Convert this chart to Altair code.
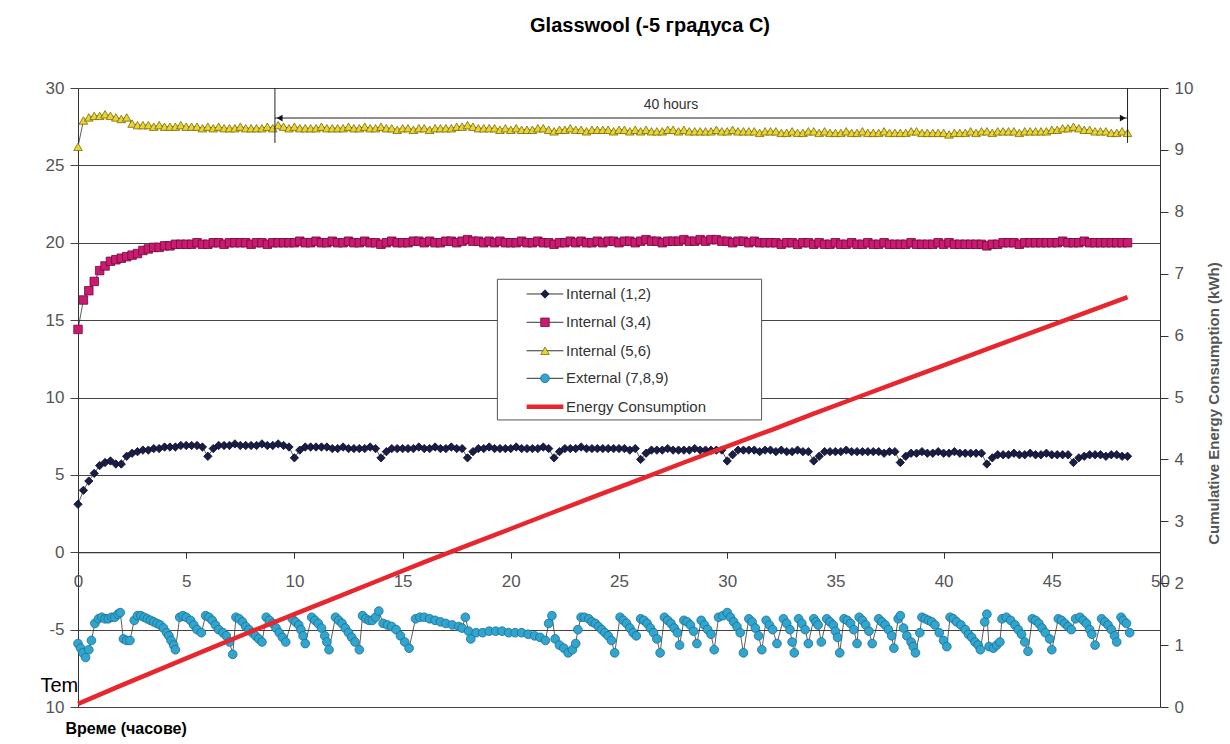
import altair as alt
import pandas as pd

TITLE = "Glasswool (-5 градуса C)"
SERIES = ["Internal (1,2)", "Internal (3,4)", "Internal (5,6)", "External (7,8,9)", "Energy Consumption"]
FILL = ["#1a1d45", "#cc1a72", "#e8d434", "#2fa5cf", "#e8262d"]
OUTLINE = ["#0b0d2a", "#6d0a3a", "#7a6a08", "#1d6e8e", "#e8262d"]
SHAPES = ["diamond", "square", "triangle-up", "circle", "circle"]
SIZES = [70, 78, 80, 80, 0]

# internal sensors, one reading every 15 minutes (4 per line = 1 hour)
int12 = [
    3.1, 4.0, 4.6, 5.1, 5.6, 5.8, 5.9, 5.7, 5.7, 6.2, 6.4, 6.5, 6.6, 6.6, 6.7, 6.7,
    6.8, 6.8, 6.8, 6.9, 6.9, 6.9, 6.9, 6.8, 6.2, 6.7, 6.9, 6.9, 6.9, 7.0, 6.9, 6.9,
    6.9, 6.9, 7.0, 6.9, 6.9, 7.0, 6.9, 6.8, 6.1, 6.6, 6.8, 6.8, 6.8, 6.8, 6.8, 6.7,
    6.7, 6.8, 6.7, 6.7, 6.7, 6.7, 6.8, 6.7, 6.1, 6.5, 6.7, 6.7, 6.7, 6.7, 6.7, 6.8,
    6.7, 6.7, 6.8, 6.7, 6.7, 6.8, 6.7, 6.7, 6.1, 6.5, 6.7, 6.7, 6.8, 6.7, 6.7, 6.7,
    6.7, 6.8, 6.7, 6.7, 6.7, 6.7, 6.8, 6.7, 6.1, 6.5, 6.7, 6.7, 6.7, 6.8, 6.7, 6.7,
    6.7, 6.7, 6.7, 6.7, 6.7, 6.7, 6.6, 6.7, 6.0, 6.4, 6.6, 6.6, 6.6, 6.7, 6.6, 6.6,
    6.6, 6.6, 6.7, 6.6, 6.6, 6.6, 6.6, 6.6, 5.9, 6.3, 6.6, 6.6, 6.6, 6.6, 6.5, 6.6,
    6.6, 6.5, 6.6, 6.5, 6.5, 6.6, 6.5, 6.5, 5.9, 6.2, 6.5, 6.5, 6.5, 6.5, 6.6, 6.5,
    6.5, 6.5, 6.5, 6.5, 6.5, 6.4, 6.5, 6.5, 5.8, 6.2, 6.4, 6.4, 6.5, 6.4, 6.4, 6.5,
    6.4, 6.4, 6.5, 6.4, 6.4, 6.4, 6.4, 6.4, 5.7, 6.1, 6.3, 6.3, 6.3, 6.4, 6.3, 6.3,
    6.4, 6.3, 6.3, 6.4, 6.3, 6.3, 6.3, 6.3, 5.8, 6.1, 6.2, 6.3, 6.3, 6.3, 6.2, 6.3,
    6.3, 6.2, 6.2,
]
int34 = [
    14.4, 16.3, 16.9, 17.5, 18.2, 18.5, 18.8, 18.9, 19.0, 19.1, 19.2, 19.3, 19.5, 19.6, 19.7, 19.7,
    19.8, 19.8, 19.9, 19.9, 19.9, 19.9, 20.0, 19.9, 19.9, 20.0, 20.0, 19.9, 20.0, 20.0, 20.0, 20.0,
    19.9, 20.0, 20.0, 19.9, 20.0, 20.0, 20.0, 20.0, 20.0, 20.1, 20.0, 20.0, 20.1, 20.0, 20.0, 20.1,
    20.0, 20.0, 20.1, 20.0, 20.0, 20.1, 20.0, 20.0, 19.9, 20.0, 20.1, 20.0, 20.0, 20.0, 20.1, 20.1,
    20.0, 20.1, 20.0, 20.0, 20.1, 20.1, 20.0, 20.1, 20.2, 20.1, 20.1, 20.0, 20.1, 20.0, 20.1, 20.0,
    20.0, 20.0, 20.1, 20.0, 20.0, 20.1, 20.0, 20.0, 19.9, 20.0, 20.0, 20.1, 20.0, 20.1, 20.0, 20.0,
    20.1, 20.0, 20.1, 20.1, 20.0, 20.1, 20.1, 20.0, 20.1, 20.2, 20.1, 20.1, 20.0, 20.1, 20.1, 20.1,
    20.2, 20.1, 20.1, 20.2, 20.1, 20.2, 20.2, 20.1, 20.1, 20.0, 20.1, 20.1, 20.0, 20.1, 20.0, 20.0,
    20.0, 20.0, 19.9, 20.0, 20.0, 19.9, 20.0, 20.0, 19.9, 20.0, 19.9, 19.9, 20.0, 19.9, 19.9, 20.0,
    19.9, 19.9, 20.0, 19.9, 19.9, 20.0, 19.9, 19.9, 19.9, 19.9, 20.0, 19.9, 19.9, 19.9, 19.9, 20.0,
    19.9, 20.0, 19.9, 19.9, 19.9, 19.9, 19.9, 19.9, 19.8, 19.9, 19.9, 20.0, 20.0, 20.0, 19.9, 20.0,
    20.0, 20.0, 20.0, 20.0, 20.0, 20.0, 20.1, 20.0, 20.0, 20.0, 20.1, 20.0, 20.0, 20.0, 20.0, 20.0,
    20.0, 20.0, 20.0,
]
int56 = [
    26.2, 27.9, 28.1, 28.2, 28.2, 28.3, 28.2, 28.1, 28.0, 28.1, 27.7, 27.6, 27.6, 27.6, 27.5, 27.6,
    27.5, 27.5, 27.5, 27.6, 27.5, 27.5, 27.5, 27.4, 27.5, 27.4, 27.5, 27.4, 27.4, 27.4, 27.5, 27.4,
    27.4, 27.4, 27.4, 27.5, 27.4, 27.6, 27.5, 27.4, 27.5, 27.4, 27.4, 27.4, 27.4, 27.5, 27.4, 27.4,
    27.4, 27.4, 27.5, 27.4, 27.4, 27.5, 27.4, 27.4, 27.5, 27.4, 27.4, 27.3, 27.4, 27.4, 27.3, 27.4,
    27.4, 27.3, 27.4, 27.4, 27.4, 27.4, 27.5, 27.5, 27.6, 27.5, 27.4, 27.4, 27.4, 27.4, 27.3, 27.4,
    27.3, 27.4, 27.3, 27.3, 27.3, 27.4, 27.4, 27.3, 27.2, 27.3, 27.3, 27.4, 27.3, 27.3, 27.2, 27.3,
    27.3, 27.3, 27.3, 27.2, 27.3, 27.3, 27.2, 27.3, 27.2, 27.3, 27.2, 27.2, 27.2, 27.3, 27.3, 27.2,
    27.3, 27.2, 27.2, 27.2, 27.2, 27.2, 27.3, 27.2, 27.2, 27.3, 27.2, 27.2, 27.2, 27.2, 27.1, 27.2,
    27.2, 27.2, 27.1, 27.1, 27.2, 27.1, 27.1, 27.2, 27.2, 27.1, 27.2, 27.1, 27.1, 27.1, 27.2, 27.1,
    27.1, 27.2, 27.1, 27.1, 27.1, 27.2, 27.1, 27.1, 27.1, 27.1, 27.2, 27.2, 27.1, 27.1, 27.1, 27.1,
    27.1, 27.0, 27.1, 27.1, 27.1, 27.2, 27.1, 27.2, 27.2, 27.1, 27.2, 27.2, 27.2, 27.2, 27.1, 27.2,
    27.2, 27.2, 27.2, 27.2, 27.3, 27.3, 27.4, 27.4, 27.5, 27.4, 27.3, 27.3, 27.2, 27.2, 27.2, 27.1,
    27.1, 27.2, 27.1,
]
STEP_H = 0.25

# external sensors (time in hours, temperature in C)
ext_t = [
    0.0, 0.12, 0.23, 0.35, 0.5, 0.62, 0.78, 0.95, 1.1, 1.25, 1.4, 1.55, 1.7, 1.85, 1.95,
    2.1, 2.25, 2.4, 2.6, 2.75, 2.9, 3.05, 3.2, 3.35, 3.5, 3.65, 3.8, 3.95, 4.1, 4.2, 4.3, 4.42, 4.5,
    4.7, 4.85, 5.0, 5.2, 5.35, 5.5, 5.7, 5.9, 6.05, 6.2, 6.35, 6.5, 6.7, 6.85, 7.0, 7.15,
    7.3, 7.45, 7.6, 7.75, 7.9, 8.05, 8.2, 8.35, 8.5, 8.7, 8.85, 9.0, 9.15, 9.3, 9.45, 9.6,
    9.9, 10.05, 10.2, 10.3, 10.4, 10.5, 10.8, 10.95, 11.1, 11.25, 11.4, 11.5, 11.6,
    11.9, 12.05, 12.2, 12.35, 12.5, 12.65, 12.8, 13.0, 13.15, 13.3, 13.45, 13.6, 13.75, 13.9,
    14.1, 14.3, 14.5, 14.7, 14.9, 15.1, 15.3, 15.6, 15.8, 16.0, 16.25, 16.5, 16.75, 17.0, 17.3, 17.6, 17.75, 17.9, 18.05, 18.15,
    18.4, 18.7, 19.0, 19.3, 19.6, 19.9, 20.2, 20.5, 20.8, 21.1, 21.35, 21.6, 21.75, 21.9,
    22.05, 22.25, 22.45, 22.65, 22.85, 23.0, 23.1, 23.25, 23.4, 23.6, 23.75, 23.9, 24.05, 24.2, 24.35, 24.5, 24.65, 24.8,
    25.05, 25.2, 25.35, 25.5, 25.65, 25.8, 26.0, 26.15, 26.3, 26.45, 26.6, 26.75, 26.9,
    27.1, 27.25, 27.4, 27.55, 27.7, 27.8, 28.0, 28.15, 28.3, 28.45, 28.6, 28.8, 28.95, 29.1, 29.25, 29.4,
    29.6, 29.8, 30.0, 30.15, 30.3, 30.45, 30.6, 30.75, 31.0, 31.15, 31.3, 31.45, 31.6,
    31.8, 31.95, 32.1, 32.3, 32.6, 32.75, 32.9, 33.0, 33.1, 33.3, 33.45, 33.6, 33.75,
    34.0, 34.1, 34.2, 34.35, 34.6, 34.75, 34.9, 35.0, 35.1, 35.2, 35.4, 35.55, 35.7, 35.85, 36.0,
    36.1, 36.25, 36.4, 36.55, 36.7, 37.0, 37.15, 37.3, 37.45, 37.6, 37.7,
    37.9, 38.0, 38.15, 38.3, 38.5, 38.6, 38.7, 38.9, 39.0, 39.15, 39.3, 39.45, 39.6, 39.8, 40.0, 40.15,
    40.3, 40.45, 40.6, 40.8, 41.0, 41.15, 41.3, 41.45, 41.6, 41.7, 41.9, 42.0, 42.1, 42.3, 42.45, 42.6,
    42.7, 42.9, 43.1, 43.3, 43.45, 43.6, 43.75, 43.9, 44.1, 44.25, 44.4, 44.55, 44.7, 44.9, 45.0,
    45.3, 45.45, 45.6, 45.75, 45.9, 46.1, 46.3, 46.45, 46.6, 46.75, 46.85, 47.0,
    47.3, 47.45, 47.6, 47.75, 47.9, 48.0, 48.2, 48.3, 48.45, 48.6,
]
ext_v = [
    -5.9, -6.2, -6.5, -6.8, -6.3, -5.7, -4.6, -4.3, -4.2, -4.3, -4.3, -4.2, -4.2, -4.0, -3.9,
    -5.6, -5.7, -5.7, -4.4, -4.1, -4.1, -4.2, -4.3, -4.4, -4.5, -4.6, -4.7, -4.9, -5.2, -5.4, -5.7, -6.0, -6.3,
    -4.2, -4.1, -4.2, -4.4, -4.7, -5.0, -5.2, -4.1, -4.2, -4.4, -4.7, -5.0, -5.2, -5.4, -5.8, -6.6,
    -4.2, -4.3, -4.5, -4.8, -5.0, -5.2, -5.4, -5.6, -5.8, -4.2, -4.4, -4.6, -4.9, -5.2, -5.5, -5.8,
    -4.3, -4.5, -4.7, -5.0, -5.4, -5.9, -4.2, -4.4, -4.6, -4.9, -5.4, -5.8, -6.3,
    -4.2, -4.4, -4.6, -4.9, -5.2, -5.5, -5.8, -6.3, -4.1, -4.3, -4.4, -4.4, -4.2, -3.8,
    -4.6, -4.7, -4.8, -5.0, -5.4, -5.8, -6.2, -4.3, -4.2, -4.2, -4.3, -4.4, -4.5, -4.6, -4.7, -4.8, -4.9, -4.2, -5.1, -5.6,
    -5.2, -5.2, -5.1, -5.1, -5.1, -5.2, -5.2, -5.2, -5.3, -5.4, -5.5, -5.7, -4.6, -4.1,
    -5.6, -6.0, -6.2, -6.5, -6.3, -5.9, -5.0, -4.2, -4.2, -4.3, -4.5, -4.6, -4.8, -5.0, -5.2, -5.4, -5.7, -6.5,
    -4.2, -4.4, -4.6, -4.9, -5.2, -5.4, -4.3, -4.4, -4.6, -4.9, -5.2, -5.6, -6.5,
    -4.2, -4.4, -4.6, -4.9, -5.2, -6.0, -4.4, -4.5, -4.7, -5.1, -5.9, -4.4, -4.7, -5.0, -5.3, -6.3,
    -4.2, -4.1, -3.9, -4.2, -4.5, -4.8, -5.2, -6.5, -4.3, -4.5, -4.9, -5.4, -6.3,
    -4.4, -4.7, -5.0, -5.9, -4.3, -4.6, -5.0, -5.8, -6.5, -4.3, -4.6, -5.0, -5.9,
    -4.3, -4.5, -4.7, -5.8, -4.3, -4.5, -4.7, -5.1, -5.5, -6.5, -4.3, -4.4, -4.6, -5.0, -5.9,
    -4.2, -4.4, -4.7, -5.1, -5.9, -4.3, -4.5, -4.7, -5.0, -5.4, -6.2,
    -4.3, -4.1, -4.9, -5.4, -5.8, -6.1, -6.5, -5.2, -4.2, -4.3, -4.4, -4.5, -4.7, -5.2, -5.7, -6.1,
    -4.2, -4.3, -4.5, -4.7, -5.0, -5.3, -5.5, -5.8, -6.0, -6.3, -4.5, -4.0, -6.1, -6.2, -6.0, -5.8,
    -4.3, -4.2, -4.4, -4.7, -5.0, -5.3, -5.8, -6.4, -4.3, -4.4, -4.6, -4.9, -5.2, -5.6, -6.3,
    -4.3, -4.4, -4.6, -4.8, -5.0, -4.3, -4.2, -4.4, -4.6, -5.0, -5.3, -6.0,
    -4.3, -4.5, -4.7, -5.0, -5.4, -5.8, -4.2, -4.4, -4.6, -5.2,
]

# cumulative energy (kWh)
energy_t = [0, 2, 4, 6, 8, 10, 12, 14, 16, 18, 20, 22, 24, 26, 28, 30, 32, 34, 36, 38, 40, 42, 44, 46, 48.5]
energy_v = [0.05, 0.35, 0.64, 0.93, 1.22, 1.50, 1.78, 2.06, 2.34, 2.61, 2.88, 3.15, 3.42, 3.68, 3.95,
            4.21, 4.47, 4.74, 5.00, 5.26, 5.52, 5.78, 6.04, 6.30, 6.62]

x_ticks = [0, 5, 10, 15, 20, 25, 30, 35, 40, 45, 50]
y_ticks = [-10, -5, 0, 5, 10, 15, 20, 25, 30]
y2_ticks = [0, 1, 2, 3, 4, 5, 6, 7, 8, 9, 10]

# "40 hours" span annotation (data units)
span_start, span_end = 9.1, 48.5
span_top, span_bottom, span_arrow, span_text_y = 30, 26.45, 28.06, 28.9
span_label = "40 hours"

# legend box placement (data units of the temperature panel)
leg_box = {"t": 19.38, "t2": 31.59, "v": 17.64, "v2": 8.55}
leg_rows_v = [16.69, 14.86, 13.02, 11.24, 9.41]
leg_line_t = (20.73, 22.43)
leg_mark_t = 21.58
leg_label_t = 22.55

# ---------- data frames ----------
rows = []
for name, vals in zip(SERIES[:3], [int12, int34, int56]):
    for i, v in enumerate(vals):
        rows.append({"t": i * STEP_H, "v": v, "series": name})
for t, v in zip(ext_t, ext_v):
    rows.append({"t": t, "v": v, "series": SERIES[3]})
df_temp = pd.DataFrame(rows)
df_energy = pd.DataFrame({"t": energy_t, "e": energy_v, "series": SERIES[4]})
df_leg = pd.DataFrame({"series": SERIES, "v": leg_rows_v,
                       "t": [leg_line_t[0]] * 5, "t2": [leg_line_t[1]] * 5,
                       "tm": [leg_mark_t] * 5, "tl": [leg_label_t] * 5})

FONT = "Liberation Sans"
xscale = alt.Scale(domain=[0, 50], nice=False, zero=False)
yscale = alt.Scale(domain=[-10, 30], nice=False, zero=False)

fill_scale = alt.Scale(domain=SERIES, range=FILL)
stroke_scale = alt.Scale(domain=SERIES, range=OUTLINE)
shape_scale = alt.Scale(domain=SERIES, range=SHAPES)
size_scale = alt.Scale(domain=SERIES, range=SIZES)

X_AXIS = alt.Axis(
    values=x_ticks, offset=-154.75, title="Време (часове)", titleX=-13, titleY=176,
    titleAlign="left", titleBaseline="middle", titleFontSize=16, titleFontWeight="bold",
    titleColor="black", titleFont=FONT, labelFont=FONT, labelFontSize=17, labelColor="#555",
    labelPadding=15, tickSize=6, tickColor="#333", domainColor="#333", grid=False, labelFlush=False,
)
Y_AXIS = alt.Axis(
    values=y_ticks, title="Tem", titleAngle=0, titleX=-38, titleY=597, titleAlign="left",
    titleBaseline="middle", titleFontSize=20, titleFontWeight="normal", titleColor="black",
    titleFont=FONT, labelFont=FONT, labelFontSize=17, labelColor="#555", labelPadding=6,
    tickSize=8, tickColor="#444", domainColor="#333", grid=True, gridColor="#444", gridWidth=1,
    labelExpr="datum.value == -10 ? '10' : '' + datum.value",
)


def X(field="t"):
    return alt.X(f"{field}:Q", scale=xscale, axis=X_AXIS)


def Y(field="v"):
    return alt.Y(f"{field}:Q", scale=yscale, axis=Y_AXIS)


base = alt.Chart(df_temp)
lines = base.mark_line(color="#333", strokeWidth=0.8).encode(
    x=X(), y=Y(), detail="series:N", order="t:Q")
points = base.mark_point(filled=True, opacity=1, strokeWidth=0.8).encode(
    x=X(), y=Y(),
    color=alt.Color("series:N", scale=fill_scale, legend=None),
    shape=alt.Shape("series:N", scale=shape_scale, legend=None),
    stroke=alt.Stroke("series:N", scale=stroke_scale, legend=None),
    size=alt.Size("series:N", scale=size_scale, legend=None),
)

span_df = pd.DataFrame({"t": [span_start, span_end], "v": [span_top, span_top], "v2": [span_bottom, span_bottom]})
span_rules = alt.Chart(span_df).mark_rule(color="#222", strokeWidth=1).encode(
    x=X(), y=Y(), y2="v2:Q")
arrow_df = pd.DataFrame({"t": [span_start], "t2": [span_end], "v": [span_arrow]})
arrow = alt.Chart(arrow_df).mark_rule(color="#222", strokeWidth=1).encode(
    x=X(), x2="t2:Q", y=Y())
head_l = alt.Chart(pd.DataFrame({"t": [span_start + 0.22], "v": [span_arrow]})).mark_point(
    shape="triangle-left", filled=True, color="#111", size=45, opacity=1).encode(x=X(), y=Y())
head_r = alt.Chart(pd.DataFrame({"t": [span_end - 0.22], "v": [span_arrow]})).mark_point(
    shape="triangle-right", filled=True, color="#111", size=45, opacity=1).encode(x=X(), y=Y())
span_text = alt.Chart(pd.DataFrame({"t": [(span_start + span_end) / 2 - 1.4], "v": [span_text_y], "label": [span_label]})).mark_text(
    font=FONT, fontSize=14, color="#333").encode(x=X(), y=Y(), text="label:N")

# ---------- legend built from marks ----------
leg_rect = alt.Chart(pd.DataFrame([leg_box])).mark_rect(fill="white", stroke="#555", strokeWidth=1).encode(
    x=X(), x2="t2:Q", y=Y(), y2="v2:Q")
leg_base = alt.Chart(df_leg)
leg_lines = leg_base.transform_filter(alt.datum.series != SERIES[4]).mark_rule(color="#333", strokeWidth=1).encode(
    x=X(), x2="t2:Q", y=Y())
leg_energy = leg_base.transform_filter(alt.datum.series == SERIES[4]).mark_rule(color=FILL[4], strokeWidth=4.5).encode(
    x=X(), x2="t2:Q", y=Y())
leg_marks = leg_base.transform_filter(alt.datum.series != SERIES[4]).mark_point(filled=True, opacity=1, strokeWidth=0.8).encode(
    x=X("tm"), y=Y(),
    color=alt.Color("series:N", scale=fill_scale, legend=None),
    shape=alt.Shape("series:N", scale=shape_scale, legend=None),
    stroke=alt.Stroke("series:N", scale=stroke_scale, legend=None),
    size=alt.Size("series:N", scale=size_scale, legend=None),
)
leg_text = leg_base.mark_text(font=FONT, fontSize=15, color="#333", align="left", baseline="middle").encode(
    x=X("tl"), y=Y(), text="series:N")

temp_group = alt.layer(lines, points, span_rules, arrow, head_l, head_r, span_text,
                       leg_rect, leg_lines, leg_energy, leg_marks, leg_text)

energy = alt.Chart(df_energy).mark_line(strokeWidth=4.5, color=FILL[4]).encode(
    x=X(),
    y=alt.Y("e:Q", scale=alt.Scale(domain=[0, 10], nice=False, zero=False), axis=alt.Axis(
        orient="right", values=y2_ticks, title="Cumulative Energy Consumption (kWh)",
        titleAngle=270, titleX=53, titleY=315, titleAlign="center", titleBaseline="middle",
        titleFontSize=15, titleFontWeight="bold", titleColor="#555", titleFont=FONT,
        labelFont=FONT, labelFontSize=17, labelColor="#555", labelPadding=6,
        tickSize=8, tickColor="#333", domainColor="#333", grid=False)),
)

chart = alt.layer(temp_group, energy).resolve_scale(y="independent").properties(
    width=1082, height=619,
    autosize=alt.AutoSizeParams(type="none"),
    padding={"left": 78, "top": 88, "right": 70, "bottom": 37},
    title=alt.Title(TITLE, font=FONT, fontSize=20, fontWeight="bold", color="black",
                    anchor="middle", frame="group", offset=33, baseline="middle", dx=31),
).configure_view(stroke=None).configure(font=FONT, background="white")

chart.save("out.html", embed_options={"renderer": "svg", "actions": False})
